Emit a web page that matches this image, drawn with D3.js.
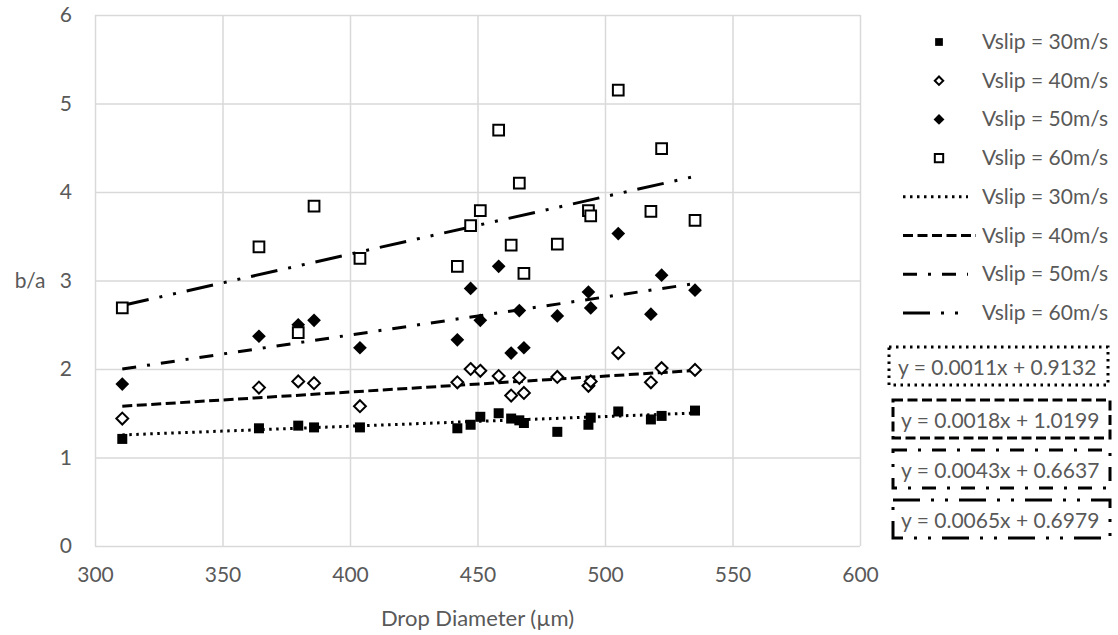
<!DOCTYPE html>
<html>
<head>
<meta charset="utf-8">
<script src="https://cdn.jsdelivr.net/npm/d3@7"></script>
<style>
  body { margin: 0; background: #fff; }
  text { font-family: Lato, "Noto Sans", sans-serif; fill: #595959; }
</style>
</head>
<body>
<div id="chart"></div>
<script>
// drop diameters (µm), shared by all four series
var diameters = [310.7, 364.3, 379.7, 385.9, 403.9, 442.1, 447.3, 451.1, 458.3, 463.2,
                 466.4, 468.2, 481.3, 493.5, 494.4, 505.2, 518.0, 522.2, 535.3];
// b/a values
var ba30 = [1.21, 1.33, 1.36, 1.34, 1.34, 1.33, 1.37, 1.46, 1.50, 1.44,
            1.42, 1.39, 1.29, 1.37, 1.45, 1.52, 1.43, 1.47, 1.53];
var ba40 = [1.44, 1.79, 1.86, 1.84, 1.58, 1.85, 2.00, 1.98, 1.92, 1.70,
            1.90, 1.73, 1.91, 1.81, 1.86, 2.18, 1.85, 2.01, 1.99];
var ba50 = [1.83, 2.37, 2.50, 2.55, 2.24, 2.33, 2.91, 2.55, 3.16, 2.18,
            2.66, 2.24, 2.60, 2.87, 2.69, 3.53, 2.62, 3.06, 2.89];
var ba60 = [2.69, 3.38, 2.41, 3.84, 3.25, 3.16, 3.62, 3.79, 4.70, 3.40,
            4.10, 3.08, 3.41, 3.79, 3.73, 5.15, 3.78, 4.49, 3.68];
var seriesNames = ["Vslip = 30m/s", "Vslip = 40m/s", "Vslip = 50m/s", "Vslip = 60m/s"];
// linear trend lines y = slope*x + intercept
var slopes = [0.0011, 0.0018, 0.0043, 0.0065];
var intercepts = [0.9132, 1.0199, 0.6637, 0.6979];
var xTicks = [300, 350, 400, 450, 500, 550, 600];
var yTicks = [0, 1, 2, 3, 4, 5, 6];

var W = 1118, H = 635;
var margin = {left: 95, right: 258, top: 15, bottom: 89};
var fs = "21px";

var svg = d3.select("#chart").append("svg")
    .attr("width", W).attr("height", H);

var x = d3.scaleLinear().domain([300, 600]).range([margin.left, W - margin.right]);
var y = d3.scaleLinear().domain([0, 6]).range([H - margin.bottom, margin.top]);

// marker styles: 30 filled square, 40 open diamond, 50 filled diamond, 60 open square
var markers = [
  {sym: d3.symbolSquare, size: 100, fill: "#000", stroke: "none"},
  {sym: d3.symbolDiamond2, size: 90, fill: "#fff", stroke: "#000"},
  {sym: d3.symbolDiamond2, size: 120, fill: "#000", stroke: "none"},
  {sym: d3.symbolSquare, size: 115, fill: "#fff", stroke: "#000"}
];
var legendMarkers = [
  {sym: d3.symbolSquare, size: 60, fill: "#000", stroke: "none"},
  {sym: d3.symbolDiamond2, size: 45, fill: "#fff", stroke: "#000"},
  {sym: d3.symbolDiamond2, size: 75, fill: "#000", stroke: "none"},
  {sym: d3.symbolSquare, size: 70, fill: "#fff", stroke: "#000"}
];
var dashes = ["2.5 4.5", "10 4.5", "14 11 3 11", "27 11 3 11 3 11"];

// gridlines
svg.append("g")
  .attr("transform", "translate(0," + y(0) + ")")
  .call(d3.axisBottom(x).tickValues(xTicks).tickSize(-(y(0) - y(6))).tickFormat(""))
  .call(function(g) { g.select(".domain").remove(); })
  .selectAll("line").attr("stroke", "#d9d9d9").attr("stroke-width", 1.5);
svg.append("g")
  .attr("transform", "translate(" + x(300) + ",0)")
  .call(d3.axisLeft(y).tickValues(yTicks).tickSize(-(x(600) - x(300))).tickFormat(""))
  .call(function(g) { g.select(".domain").remove(); })
  .selectAll("line").attr("stroke", "#d9d9d9").attr("stroke-width", 1.5);

// tick labels
var xAxis = svg.append("g")
  .attr("transform", "translate(0," + y(0) + ")")
  .call(d3.axisBottom(x).tickValues(xTicks).tickSize(0).tickPadding(21));
xAxis.select(".domain").remove();
xAxis.selectAll("text").style("font-size", fs).attr("fill", "#595959");

var yAxis = svg.append("g")
  .attr("transform", "translate(" + x(300) + ",0)")
  .call(d3.axisLeft(y).tickValues(yTicks).tickFormat(d3.format("d")).tickSize(0).tickPadding(23));
yAxis.select(".domain").remove();
yAxis.selectAll("text").style("font-size", fs).attr("fill", "#595959");

svg.append("text")
  .attr("x", (x(300) + x(600)) / 2).attr("y", 626)
  .attr("text-anchor", "middle").style("font-size", "22px")
  .text("Drop Diameter (µm)");
svg.append("text")
  .attr("x", 30).attr("y", y(3) + 7)
  .attr("text-anchor", "middle").style("font-size", fs)
  .text("b/a");

var allSeries = [ba30, ba40, ba50, ba60];

// trend lines
var xMin = d3.min(diameters), xMax = d3.max(diameters);
allSeries.forEach(function(s, i) {
  var pts = [xMin, xMax].map(function(d) { return [x(d), y(slopes[i] * d + intercepts[i])]; });
  svg.append("path")
    .attr("d", d3.line()(pts))
    .attr("fill", "none").attr("stroke", "#000")
    .attr("stroke-width", 3).attr("stroke-dasharray", dashes[i]);
});

// points
allSeries.forEach(function(s, i) {
  var m = markers[i];
  svg.append("g").selectAll("path")
    .data(s)
    .enter().append("path")
    .attr("transform", function(d, j) { return "translate(" + x(diameters[j]) + "," + y(d) + ")"; })
    .attr("d", d3.symbol().type(m.sym).size(m.size))
    .attr("fill", m.fill).attr("stroke", m.stroke).attr("stroke-width", 2);
});

// legend
var legY0 = 42, legStep = 38.7;
var leg = svg.append("g");
legendMarkers.forEach(function(m, i) {
  var cy = legY0 + i * legStep;
  leg.append("path")
    .attr("transform", "translate(939," + cy + ")")
    .attr("d", d3.symbol().type(m.sym).size(m.size))
    .attr("fill", m.fill).attr("stroke", m.stroke).attr("stroke-width", 2);
  leg.append("text").attr("x", 982).attr("y", cy + 7)
    .style("font-size", fs).text(seriesNames[i]);
});
dashes.forEach(function(da, i) {
  var cy = legY0 + (i + 4) * legStep;
  leg.append("line")
    .attr("x1", 903).attr("x2", i == 1 ? 976 : 968)
    .attr("y1", cy).attr("y2", cy)
    .attr("stroke", "#000").attr("stroke-width", 3).attr("stroke-dasharray", da);
  leg.append("text").attr("x", 982).attr("y", cy + 7)
    .style("font-size", fs).text(seriesNames[i]);
});

// trend line equations
var boxTops = [347, 400, 450, 500];
slopes.forEach(function(sl, i) {
  var g = svg.append("g");
  g.append("rect")
    .attr("x", i == 0 ? 889 : 893).attr("y", boxTops[i])
    .attr("width", i == 0 ? 219 : 217).attr("height", 38)
    .attr("fill", "#fff").attr("stroke", "#000")
    .attr("stroke-width", 3).attr("stroke-dasharray", dashes[i]);
  g.append("text")
    .attr("x", i == 0 ? 898 : 901).attr("y", boxTops[i] + 28)
    .style("font-size", fs)
    .text("y = " + sl.toFixed(4) + "x + " + intercepts[i].toFixed(4));
});
</script>
</body>
</html>
